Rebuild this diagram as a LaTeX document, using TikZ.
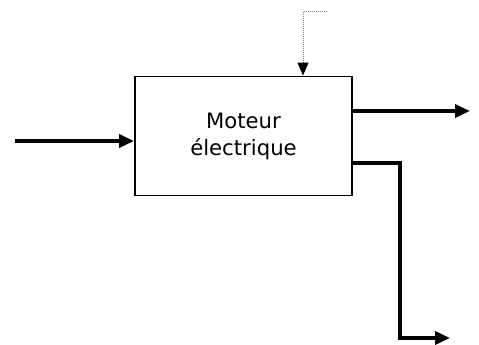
\documentclass[tikz,border=0pt]{standalone}
\usepackage{fontspec}
\setmainfont{DejaVu Sans}
\usetikzlibrary{arrows.meta, positioning}

\begin{document}
\begin{tikzpicture}[x=1pt, y=-1pt,
    bloc/.style={draw, line width=1.9pt, minimum width=217pt, minimum height=119pt, align=center, inner sep=0pt, font=\fontsize{21.2}{27}\selectfont},
    flux/.style={-{Triangle[length=15pt, width=13pt]}, line width=3.6pt},
    ctrl/.style={-{Triangle[length=13pt, width=11pt, color=black]}, densely dotted, gray, line width=1pt},
]
\useasboundingbox (0,0) rectangle (479,345);

% Bloc
\node[bloc] (moteur) at (243.5,136) {Moteur\\électrique};

% Extrémités libres
\coordinate (entree) at (15,141);
\coordinate (sortieA) at (470,111);
\coordinate (coude) at (400,163);
\coordinate (sortieB) at (450,338);
\coordinate (commande) at (327,12);
\coordinate (coin) at (303,12);

% Flèches
\draw[flux] (entree) -- (entree -| moteur.west);
\draw[flux] (moteur.east |- sortieA) -- (sortieA);
\draw[flux] (moteur.east |- coude) -- (coude) |- (sortieB);
\draw[ctrl] (commande) -- (coin) -- (coin |- moteur.north);

\end{tikzpicture}
\end{document}
